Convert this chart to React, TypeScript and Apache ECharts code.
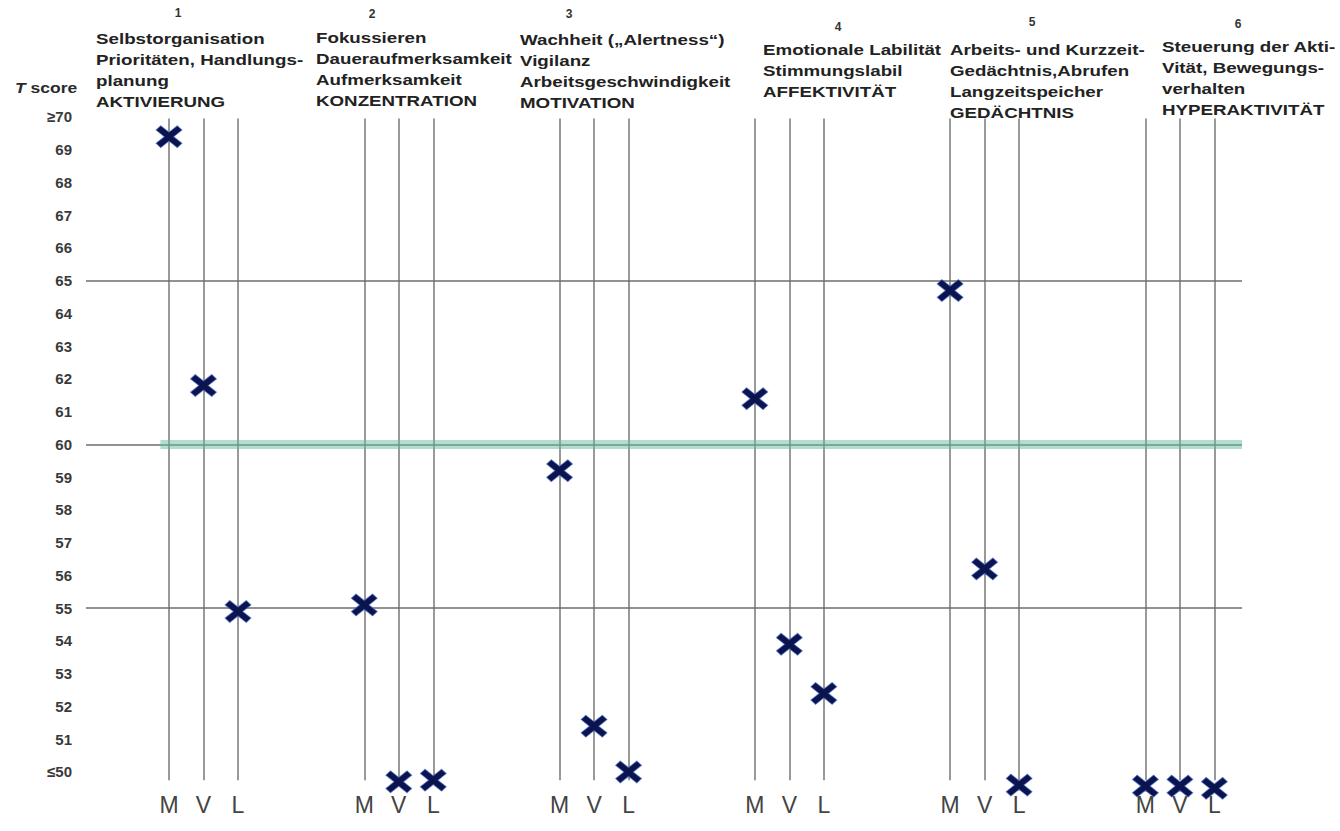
import React, { useEffect, useRef } from "react";
import * as echarts from "echarts";

// ---------- data ----------
const GROUP_NUMBERS = ["1", "2", "3", "4", "5", "6"];
const MEASURES = ["M", "V", "L"];
const HEADER_1 = ["Selbstorganisation", "Prioritäten, Handlungs-", "planung", "AKTIVIERUNG"];
const HEADER_2 = ["Fokussieren", "Daueraufmerksamkeit", "Aufmerksamkeit", "KONZENTRATION"];
const HEADER_3 = ["Wachheit („Alertness“)", "Vigilanz", "Arbeitsgeschwindigkeit", "MOTIVATION"];
const HEADER_4 = ["Emotionale Labilität", "Stimmungslabil", "AFFEKTIVITÄT"];
const HEADER_5 = ["Arbeits- und Kurzzeit-", "Gedächtnis,Abrufen", "Langzeitspeicher", "GEDÄCHTNIS"];
const HEADER_6 = ["Steuerung der Akti-", "Vität, Bewegungs-", "verhalten", "HYPERAKTIVITÄT"];
const HEADERS = [HEADER_1, HEADER_2, HEADER_3, HEADER_4, HEADER_5, HEADER_6];

const M_SCORES = [69.4, 55.1, 59.2, 61.4, 64.7, 49.57];
const V_SCORES = [61.8, 49.7, 51.4, 53.9, 56.2, 49.57];
const L_SCORES = [54.9, 49.75, 50.0, 52.4, 49.6, 49.5];

const Y_TICKS = [50, 51, 52, 53, 54, 55, 56, 57, 58, 59, 60, 61, 62, 63, 64, 65, 66, 67, 68, 69, 70];
const Y_TICK_LABELS = ["≤50", "51", "52", "53", "54", "55", "56", "57", "58", "59", "60",
  "61", "62", "63", "64", "65", "66", "67", "68", "69", "≥70"];
const REF_LINES = [65, 55];
const NORM_LINE = 60;
const Y_AXIS_TITLE = "T score";

// ---------- layout ----------
const GROUP_STEP = 5.66;
const X_MIN = -2.406;
const X_MAX = 31.1;
const Y_MIN = 49.7;
const Y_MAX = 70.1;
const LINE_BOTTOM = 49.75;
const LINE_TOP = 69.95;

const HEADER_POS = [
  { x: 96, y: 28.5, nx: 178, ny: 13 },
  { x: 316, y: 27.5, nx: 372, ny: 14 },
  { x: 520, y: 29.5, nx: 569, ny: 14 },
  { x: 763, y: 39.5, nx: 838, ny: 27 },
  { x: 950, y: 39.5, nx: 1032, ny: 22 },
  { x: 1162, y: 36.5, nx: 1238, ny: 24 },
];

const colX = (g: number, m: number) => g * GROUP_STEP + m;

const X_SHAPE =
  "path://M0,4 L4,0 L11,6 L18,0 L22,4 L15,10 L22,16 L18,20 L11,14 L4,20 L0,16 L7,10 Z";

export default function App() {
  const ref = useRef<HTMLDivElement>(null);
  useEffect(() => {
    if (!ref.current) return;
    const chart = echarts.init(ref.current, undefined, { renderer: "svg" });

    const columnXs: number[] = [];
    const columnLetters: Record<string, string> = {};
    GROUP_NUMBERS.forEach((_, g) =>
      MEASURES.forEach((m, mi) => {
        const x = colX(g, mi);
        columnXs.push(x);
        columnLetters[x.toFixed(2)] = m;
      })
    );

    const verticalLines = columnXs.map((x) => [
      { coord: [x, LINE_BOTTOM] },
      { coord: [x, LINE_TOP] },
    ]);
    const refLines = REF_LINES.map((v) => [
      { coord: [X_MIN, v] },
      { coord: [X_MAX, v] },
    ]);

    const scores = [M_SCORES, V_SCORES, L_SCORES];
    const points: number[][] = [];
    GROUP_NUMBERS.forEach((_, g) =>
      MEASURES.forEach((_m, mi) => points.push([colX(g, mi), scores[mi][g]]))
    );

    const graphics: any[] = [
      {
        type: "text",
        x: 15,
        y: 88,
        scaleX: 1.25,
        style: {
          text: "{i|T} score",
          fill: "#2a2a2a",
          font: "bold 14px 'Liberation Sans', Arial, sans-serif",
          textVerticalAlign: "middle",
          rich: {
            i: { fontStyle: "italic", fontWeight: "bold", fontSize: 14, fontFamily: "Liberation Sans" },
          },
        },
      },
    ];
    HEADERS.forEach((lines, g) => {
      const p = HEADER_POS[g];
      graphics.push({
        type: "text",
        x: p.nx,
        y: p.ny,
        style: {
          text: GROUP_NUMBERS[g],
          fill: "#333",
          font: "bold 12px 'Liberation Sans', Arial, sans-serif",
          textAlign: "center",
          textVerticalAlign: "middle",
        },
      });
      graphics.push({
        type: "text",
        x: p.x,
        y: p.y,
        scaleX: 1.25,
        style: {
          text: lines.join("\n"),
          fill: "#222",
          font: "bold 15px 'Liberation Sans', Arial, sans-serif",
          lineHeight: 21,
          textAlign: "left",
          textVerticalAlign: "top",
        },
      });
    });

    chart.setOption({
      animation: false,
      backgroundColor: "#ffffff",
      grid: { left: 86, right: 1340 - 1242, top: 113.7, bottom: 49.2, containLabel: false },
      xAxis: {
        type: "value",
        min: X_MIN,
        max: X_MAX,
        axisLine: { show: false },
        axisTick: { show: false },
        splitLine: { show: false },
        axisLabel: {
          customValues: columnXs,
          formatter: (v: number) => columnLetters[v.toFixed(2)] ?? "",
          color: "#444",
          fontSize: 23,
          fontFamily: "Liberation Sans",
          margin: 12,
        },
      },
      yAxis: {
        type: "value",
        min: Y_MIN,
        max: Y_MAX,
        axisLine: { show: false },
        axisTick: { show: false },
        splitLine: { show: false },
        axisLabel: {
          customValues: Y_TICKS,
          formatter: (v: number) => Y_TICK_LABELS[Y_TICKS.indexOf(Math.round(v))] ?? "",
          color: "#3a3a3a",
          fontSize: 15,
          fontWeight: "bold",
          fontFamily: "Liberation Sans",
          margin: 14,
        },
      },
      graphic: graphics,
      series: [
        {
          type: "line",
          data: [],
          silent: true,
          markLine: {
            silent: true,
            symbol: ["none", "none"],
            label: { show: false },
            lineStyle: { color: "#999999", width: 2, type: "solid" },
            data: verticalLines,
          },
        },
        {
          type: "line",
          data: [],
          silent: true,
          markLine: {
            silent: true,
            symbol: ["none", "none"],
            label: { show: false },
            lineStyle: { color: "#6e6e6e", width: 1.5, type: "solid" },
            data: [
              ...refLines,
              [{ coord: [X_MIN, NORM_LINE] }, { coord: [X_MAX, NORM_LINE] }],
            ],
          },
        },
        {
          type: "line",
          data: [],
          silent: true,
          markLine: {
            silent: true,
            symbol: ["none", "none"],
            label: { show: false },
            lineStyle: { color: "rgba(100,190,160,0.5)", width: 9, type: "solid" },
            data: [[{ coord: [-0.25, NORM_LINE] }, { coord: [X_MAX, NORM_LINE] }]],
          },
        },
        {
          name: Y_AXIS_TITLE,
          type: "scatter",
          data: points,
          symbol: X_SHAPE,
          symbolSize: [26, 22],
          clip: false,
          itemStyle: {
            color: "#0c1450",
            opacity: 1,
            borderColor: "rgba(70,110,200,0.6)",
            borderWidth: 1,
          },
          z: 5,
        },
      ],
    });
    return () => chart.dispose();
  }, []);
  return (
    <div
      ref={ref}
      style={{ position: "fixed", left: 0, top: 0, width: 1340, height: 831, background: "#fff" }}
    />
  );
}
